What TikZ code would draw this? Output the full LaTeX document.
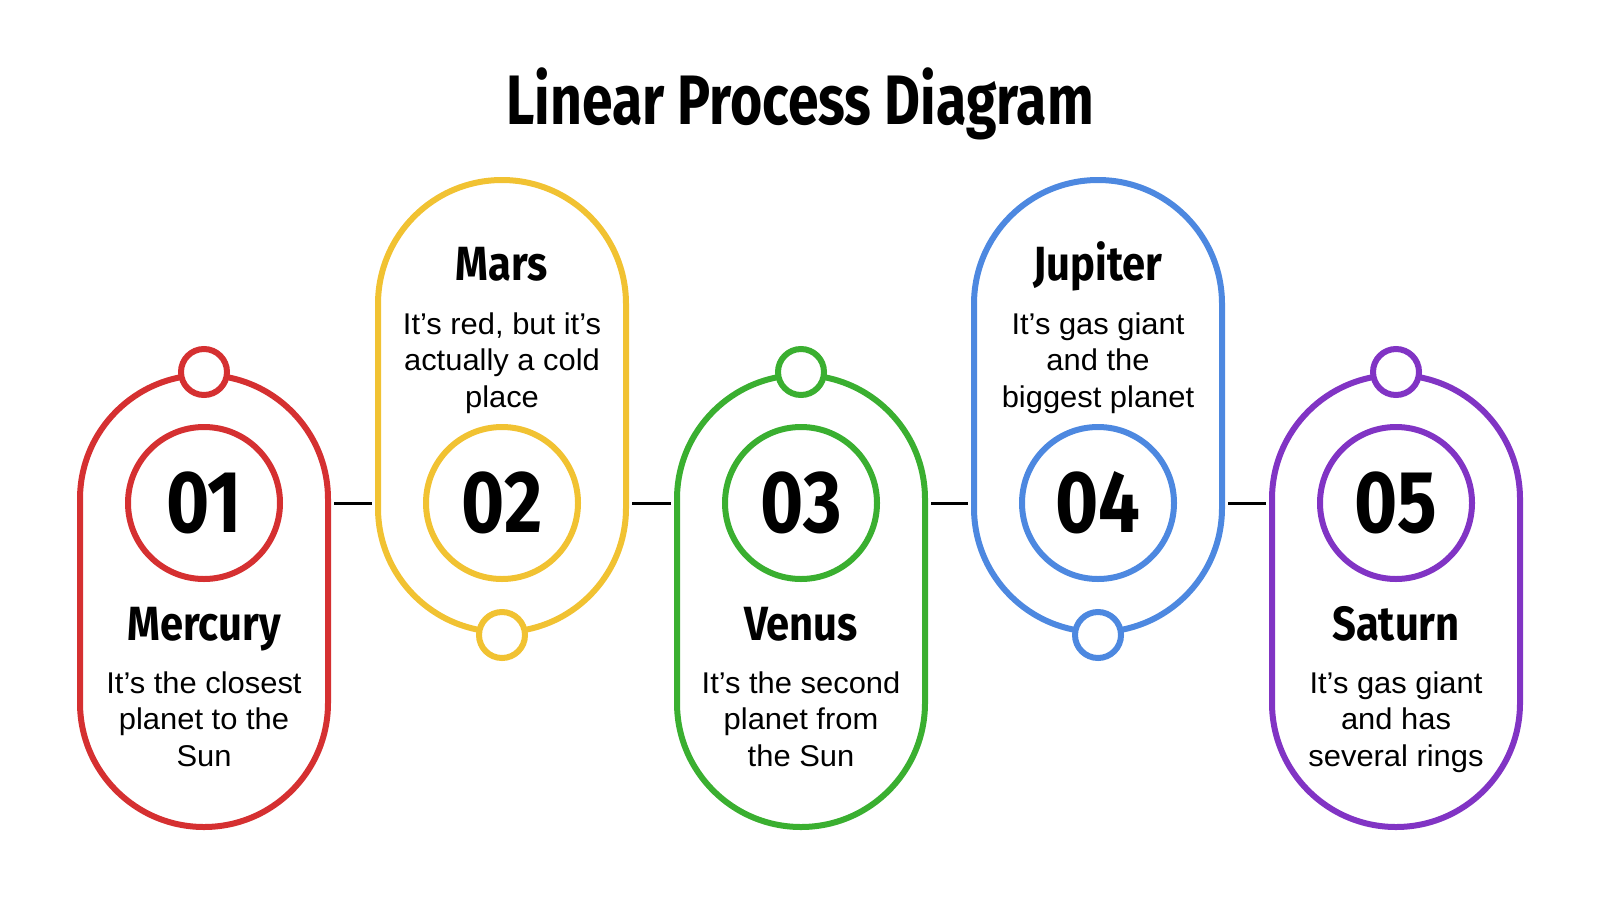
\documentclass[tikz,border=0pt]{standalone}
\usepackage{fontspec}
\setmainfont{Liberation Sans}[FakeStretch=1.03]
\newfontfamily\headfont[FakeStretch=0.79]{Fira Sans}
\newfontfamily\digitfont[FakeStretch=0.84]{Fira Sans}
\newfontfamily\planetfont[FakeStretch=0.87]{Fira Sans}
\usepackage{tikz}
\definecolor{cred}{HTML}{D53031}
\definecolor{cyellow}{HTML}{F1C232}
\definecolor{cgreen}{HTML}{3AAF30}
\definecolor{cblue}{HTML}{4D88E0}
\definecolor{cpurple}{HTML}{8134C4}

\begin{document}
\begin{tikzpicture}[x=0.5pt,y=-0.5pt]
\tikzset{capsule/.style = {shape=rectangle,draw,line width=3pt,rounded corners=62pt,minimum width=124pt,minimum height=226pt,inner sep=0pt}}
\tikzset{knob/.style = {shape=circle,draw,fill=white,line width=3pt,minimum size=23pt,inner sep=0pt}}
\tikzset{ring/.style = {shape=circle,draw,line width=3pt,minimum size=76pt,inner sep=0pt,font=\digitfont\bfseries\fontsize{44}{44}\selectfont}}
\tikzset{planet/.style = {anchor=base,inner sep=0pt,font=\planetfont\bfseries\fontsize{24}{24}\selectfont}}
\tikzset{blurb/.style = {anchor=north,align=center,inner sep=0pt,font=\fontsize{15}{18.25}\selectfont}}
\tikzset{link/.style = {line width=1.5pt,shorten <=1.5pt,shorten >=1.5pt}}
\useasboundingbox (0,0) rectangle (1600,900);
% title
\node[anchor=base,font=\headfont\bfseries\fontsize{35}{35}\selectfont] (head) at (800,124) {Linear Process Diagram};
% capsules
\node[capsule,draw=cred]    (c1) at (204,601)  {};
\node[capsule,draw=cyellow] (c2) at (502,406)  {};
\node[capsule,draw=cgreen]  (c3) at (801,601)  {};
\node[capsule,draw=cblue]   (c4) at (1098,406) {};
\node[capsule,draw=cpurple] (c5) at (1396,601) {};
% knobs
\node[knob,draw=cred]    (k1) at (c1.north) {};
\node[knob,draw=cyellow] (k2) at (c2.south) {};
\node[knob,draw=cgreen]  (k3) at (c3.north) {};
\node[knob,draw=cblue]   (k4) at (c4.south) {};
\node[knob,draw=cpurple] (k5) at (c5.north) {};
% numbers
\node[ring,draw=cred]    (r1) at (204,503)  {01};
\node[ring,draw=cyellow] (r2) at (502,503)  {02};
\node[ring,draw=cgreen]  (r3) at (801,503)  {03};
\node[ring,draw=cblue]   (r4) at (1098,503) {04};
\node[ring,draw=cpurple] (r5) at (1396,503) {05};
% texts
\node[planet] (p1) at (204,640)  {Mercury};
\node[blurb]  (b1) at (204,671)  {It’s the closest\\planet to the\\Sun};
\node[planet] (p2) at (502,280)  {Mars};
\node[blurb]  (b2) at (502,312)  {It’s red, but it’s\\actually a cold\\place};
\node[planet] (p3) at (801,640)  {Venus};
\node[blurb]  (b3) at (801,671)  {It’s the second\\planet from\\the Sun};
\node[planet] (p4) at (1098,280) {Jupiter};
\node[blurb]  (b4) at (1098,312) {It’s gas giant\\and the\\biggest planet};
\node[planet] (p5) at (1396,640) {Saturn};
\node[blurb]  (b5) at (1396,671) {It’s gas giant\\and has\\several rings};
%links
\draw[link] (r1 -| c1.east) to (r2 -| c2.west);
\draw[link] (r2 -| c2.east) to (r3 -| c3.west);
\draw[link] (r3 -| c3.east) to (r4 -| c4.west);
\draw[link] (r4 -| c4.east) to (r5 -| c5.west);
\end{tikzpicture}
\end{document}
